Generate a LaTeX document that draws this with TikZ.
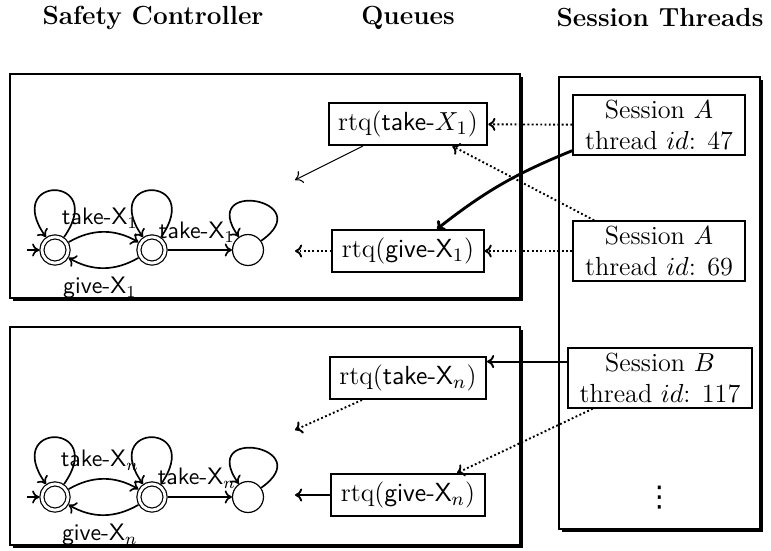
\documentclass[tikz,border=0pt]{standalone}
\usepackage{fontspec}
\newfontfamily\dejavu{DejaVu Sans}
\usetikzlibrary{shadows,calc,arrows.meta}
\tikzset{
  frame/.style={draw,line width=0.55pt,fill=white,drop shadow={shadow xshift=1.2pt,shadow yshift=-1.2pt,fill=black,opacity=1}},
  thread/.style={draw,line width=0.8pt,fill=white,align=center,font=\fontsize{11}{13}\selectfont,inner xsep=5pt,inner ysep=2pt},
  queue/.style={draw,line width=0.8pt,fill=white,font=\fontsize{11}{13}\selectfont,inner xsep=4pt,minimum height=17.6pt},
  state/.style={circle,draw,line width=0.5pt,minimum size=13pt,inner sep=0pt},
  final/.style={state,double,double distance=1.2pt,minimum size=11pt,outer sep=1.1pt},
  lbl/.style={font=\sffamily,inner sep=0pt},
  title/.style={font=\fontsize{11}{13}\bfseries\selectfont}
}
\begin{document}
\begin{tikzpicture}[x=0.42pt,y=0.42pt,>={Computer Modern Rightarrow[length=3pt,width=5.5pt]}]
  \useasboundingbox (0,0) rectangle (771,550);
  \node[title] (tsc) at (153,532) {Safety Controller};
  \node[title] (tq) at (408,532) {Queues};
  \node[title] (tst) at (660,532) {Session Threads};
  \draw[frame] (10,252) rectangle (520,476);
  \draw[frame] (10,5) rectangle (520,223);
  \draw[frame] (559,21) rectangle (760,473);
  \begin{scope}[every node/.style={thread}]
    \node (sa1) at (659,425) {Session $A$\\thread $id$: 47};
    \node (sa2) at (659,299) {Session $A$\\thread $id$: 69};
    \node (sb) at (660,172) {Session $B$\\thread $id$: 117};
  \end{scope}
  \node[font=\fontsize{12}{14}\dejavu] (dots) at (660,52) {⋮};
  \begin{scope}[every node/.style={queue}]
    \node (tk1) at (408,426) {rtq(\textsf{take-}$X_1$)};
    \node (gv1) at (408,299) {rtq(\textsf{give-X}$_1$)};
    \node (tkn) at (408,172) {rtq(\textsf{take-X}$_n$)};
    \node (gvn) at (408,55) {rtq(\textsf{give-X}$_n$)};
  \end{scope}
  \coordinate (e1) at (295,370);
  \coordinate (e2) at (295,299);
  \coordinate (e3) at (295,120);
  \coordinate (e4) at (295,55);
  \begin{scope}[every edge/.style={draw,->,densely dotted,line width=0.8pt}]
    \path (sa1) edge (tk1);
    \path (sa2) edge (gv1);
    \path ($(sa2.north west)+(22,0)$) edge ($(tk1.south east)+(-36,0)$);
    \path (gv1) edge (e2);
    \path ($(sb.south west)+(26,0)$) edge ($(gvn.north)+(49,0)$);
    \path ($(tkn.south)+(-46,0)$) edge (e3);
  \end{scope}
  \begin{scope}[every edge/.style={draw,->,line width=0.8pt}]
    \path ($(sa1.south west)+(0,5)$) edge[line width=1.2pt,bend right=8] ($(gv1.north)+(29,0)$);
    \path ($(tk1.south)+(-45,0)$) edge[line width=0.45pt] (e1);
    \path (sb.170) edge (sb.170 -| tkn.east);
    \path (gvn) edge (e4);
  \end{scope}
  \begin{scope}[shift={(0,300)}]
    \node[final] (q0) at (55,0) {};
    \node[final] (q1) at (152,0) {};
    \node[state] (q2) at (248,0) {};
    \coordinate (qi) at (27,0);
    \node[lbl] (la) at (100,32) {take-X$_1$};
    \node[lbl] (lb) at (197,18) {take-X$_1$};
    \node[lbl] (lc) at (100,-38) {give-X$_1$};
    \begin{scope}[every edge/.style={draw,->,line width=0.7pt}]
      \path (qi) edge (q0);
      \path (q0) edge[bend left=30] (q1);
      \path (q1) edge[bend left=30] (q0);
      \path (q1) edge (q2);
      \path (q0) edge[loop,out=55,in=125,min distance=32pt] (q0);
      \path (q1) edge[loop,out=55,in=125,min distance=32pt] (q1);
      \path (q2) edge[loop,out=35,in=125,min distance=30pt] (q2);
    \end{scope}
  \end{scope}
  \begin{scope}[shift={(0,53)}]
    \node[final] (q0) at (55,0) {};
    \node[final] (q1) at (152,0) {};
    \node[state] (q2) at (248,0) {};
    \coordinate (qi) at (27,0);
    \node[lbl] (la) at (100,37) {take-X$_n$};
    \node[lbl] (lb) at (197,19) {take-X$_n$};
    \node[lbl] (lc) at (100,-38) {give-X$_n$};
    \begin{scope}[every edge/.style={draw,->,line width=0.7pt}]
      \path (qi) edge (q0);
      \path (q0) edge[bend left=30] (q1);
      \path (q1) edge[bend left=30] (q0);
      \path (q1) edge (q2);
      \path (q0) edge[loop,out=55,in=125,min distance=32pt] (q0);
      \path (q1) edge[loop,out=55,in=125,min distance=32pt] (q1);
      \path (q2) edge[loop,out=35,in=125,min distance=30pt] (q2);
    \end{scope}
  \end{scope}
\end{tikzpicture}
\end{document}
